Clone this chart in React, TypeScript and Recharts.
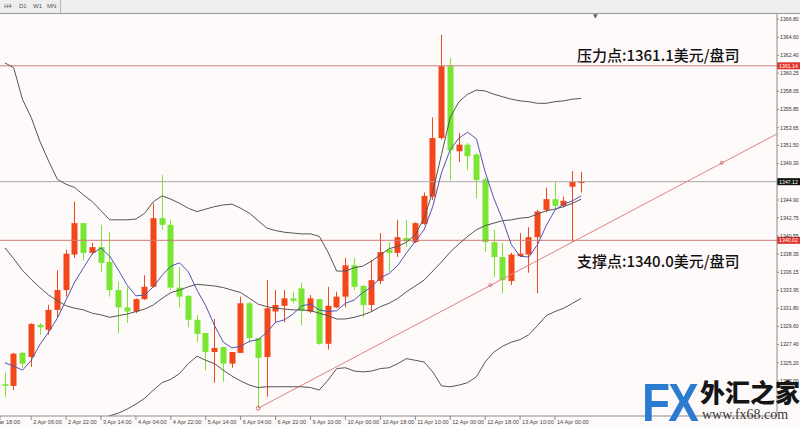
import React from 'react';
import {
  ComposedChart,
  Bar,
  Line,
  XAxis,
  YAxis,
  ReferenceLine,
  ReferenceDot,
} from 'recharts';

// H4 candles, gold (XAU/USD)
const openPrices = [
  1322.6, 1322.4, 1326.4, 1325.9, 1329.8, 1329.2, 1331.6, 1334.0, 1338.3, 1342.1,
  1338.5, 1339.2, 1337.4, 1334.0, 1331.9, 1331.4, 1332.9, 1334.4, 1342.7, 1341.9,
  1334.3, 1333.3, 1330.4, 1328.8, 1326.5, 1327.1, 1325.1, 1326.4, 1332.4, 1328.2,
  1325.9, 1331.4, 1332.1, 1333.0, 1334.2, 1331.4, 1332.9, 1327.5, 1331.9, 1333.2,
  1337.0, 1334.5, 1332.2, 1335.1, 1338.9, 1338.5, 1340.3, 1339.8, 1342.0, 1345.3,
  1352.4, 1361.1, 1350.8, 1351.6, 1350.4, 1347.4, 1339.8, 1338.0, 1335.1, 1338.1,
  1338.3, 1340.4, 1343.7, 1345.0, 1344.2, 1346.5, 1347.0,
];
const highPrices = [
  1324.0, 1326.4, 1326.5, 1330.0, 1330.0, 1332.2, 1336.4, 1338.9, 1344.7, 1342.1,
  1339.7, 1341.9, 1341.0, 1335.0, 1334.4, 1333.0, 1335.8, 1344.5, 1347.9, 1342.5,
  1336.8, 1333.4, 1331.0, 1328.8, 1330.5, 1327.1, 1326.5, 1333.2, 1332.6, 1328.2,
  1335.2, 1334.0, 1334.0, 1333.8, 1334.9, 1333.4, 1332.9, 1334.4, 1333.8, 1337.9,
  1337.9, 1334.6, 1337.6, 1340.9, 1339.8, 1342.5, 1342.5, 1342.2, 1345.8, 1354.9,
  1364.9, 1362.1, 1353.0, 1351.8, 1350.6, 1347.6, 1341.3, 1339.7, 1338.5, 1340.9,
  1341.6, 1343.7, 1346.4, 1347.1, 1345.3, 1348.4, 1348.3,
];
const lowPrices = [
  1321.1, 1321.9, 1324.6, 1324.7, 1328.6, 1328.6, 1330.7, 1333.2, 1337.9, 1337.6,
  1338.3, 1336.2, 1333.2, 1328.8, 1330.0, 1331.2, 1332.8, 1334.3, 1341.3, 1334.0,
  1331.9, 1329.5, 1327.7, 1324.3, 1322.8, 1322.9, 1324.6, 1326.4, 1327.6, 1319.7,
  1321.1, 1330.0, 1330.1, 1332.4, 1329.8, 1331.2, 1327.4, 1326.8, 1331.8, 1331.9,
  1334.0, 1330.7, 1331.4, 1334.7, 1336.2, 1338.0, 1339.2, 1339.7, 1341.9, 1344.9,
  1352.2, 1347.3, 1349.5, 1348.5, 1345.1, 1338.6, 1335.6, 1333.6, 1334.6, 1338.0,
  1336.1, 1333.6, 1343.4, 1343.8, 1344.0, 1339.8, 1345.8,
];
const closePrices = [
  1322.4, 1326.3, 1325.1, 1329.9, 1329.5, 1331.6, 1334.0, 1338.4, 1342.1, 1338.5,
  1339.2, 1337.3, 1334.0, 1331.9, 1331.4, 1332.9, 1334.4, 1342.7, 1341.9, 1334.3,
  1333.2, 1330.4, 1328.7, 1326.5, 1327.0, 1325.1, 1326.5, 1332.4, 1328.2, 1325.8,
  1331.8, 1332.2, 1333.0, 1332.7, 1331.5, 1333.0, 1327.5, 1332.1, 1333.2, 1337.0,
  1334.4, 1332.2, 1335.2, 1338.6, 1338.5, 1340.4, 1339.9, 1342.1, 1345.4, 1352.4,
  1361.1, 1350.9, 1351.6, 1350.2, 1347.3, 1339.8, 1338.0, 1335.2, 1338.3, 1338.4,
  1340.4, 1343.5, 1345.0, 1344.2, 1344.8, 1347.1, 1347.1,
];

// Bollinger bands and the short moving average
const bandUpper = [
  1361.5, 1360.9, 1357.1, 1354.9, 1352.0, 1349.6, 1347.4, 1346.8, 1346.4, 1345.5,
  1344.7, 1343.6, 1342.5, 1342.5, 1342.5, 1342.6, 1343.3, 1344.7, 1345.4, 1345.0,
  1344.5, 1343.9, 1343.5, 1343.8, 1344.1, 1344.3, 1344.4, 1343.9, 1343.3, 1342.4,
  1341.5, 1341.2, 1341.0, 1340.9, 1340.8, 1340.8, 1340.5, 1338.6, 1336.3, 1336.3,
  1336.7, 1336.9, 1337.5, 1338.3, 1339.0, 1339.3, 1339.8, 1340.7, 1342.7, 1345.9,
  1350.4, 1354.9, 1356.8, 1357.7, 1358.2, 1358.1, 1357.7, 1357.4, 1357.1, 1356.9,
  1356.8, 1356.6, 1356.6, 1356.8, 1356.9, 1357.1, 1357.2,
];
const bandMiddle = [
  1339.1, 1337.8, 1336.4, 1335.3, 1334.3, 1333.4, 1332.7, 1332.1, 1331.8, 1331.6,
  1331.2, 1331.0, 1330.7, 1330.9, 1331.1, 1331.4, 1331.7, 1332.2, 1333.0, 1333.7,
  1334.0, 1334.4, 1334.7, 1334.6, 1334.5, 1334.3, 1334.0, 1333.7, 1333.0, 1332.3,
  1332.0, 1331.8, 1331.7, 1331.6, 1331.6, 1331.5, 1331.2, 1330.9, 1330.5, 1330.5,
  1330.7, 1331.0, 1331.4, 1332.0, 1332.4, 1333.0, 1333.8, 1334.5, 1335.2, 1336.3,
  1337.4, 1338.6, 1339.6, 1340.5, 1341.3, 1341.8, 1342.1, 1342.4, 1342.5, 1342.7,
  1342.8, 1343.2, 1343.6, 1343.8, 1344.1, 1344.5, 1345.0,
];
const bandLower = [
  1316.7, 1315.9, 1315.7, 1315.7, 1316.2, 1316.8, 1317.6, 1317.6, 1317.3, 1317.6,
  1317.8, 1318.3, 1318.8, 1319.1, 1319.6, 1320.2, 1320.9, 1321.9, 1322.8, 1323.2,
  1323.9, 1325.1, 1326.0, 1325.5, 1325.1, 1324.3, 1323.6, 1323.0, 1322.5, 1322.2,
  1322.3, 1322.3, 1322.3, 1322.3, 1322.3, 1322.2, 1321.9, 1323.1, 1324.5, 1324.6,
  1324.2, 1324.1, 1324.2, 1324.5, 1324.6, 1325.1, 1325.7, 1325.5, 1325.3, 1324.1,
  1322.4, 1322.3, 1322.5, 1322.8, 1323.5, 1325.3, 1326.5, 1327.2, 1327.7, 1328.0,
  1328.6, 1329.7, 1330.9, 1331.4, 1331.8, 1332.4, 1333.0,
];
const movingAvg = [
  1325.2, 1324.8, 1324.3, 1325.5, 1327.4, 1328.9, 1330.6, 1332.8, 1335.0, 1336.7,
  1338.4, 1339.1, 1338.1, 1336.4, 1334.6, 1333.3, 1333.4, 1334.4, 1335.8, 1336.9,
  1337.3, 1336.2, 1334.0, 1332.1, 1329.7, 1327.7, 1327.0, 1327.2, 1327.8, 1328.0,
  1328.9, 1330.1, 1330.4, 1331.1, 1332.1, 1332.3, 1331.6, 1331.4, 1331.5, 1332.4,
  1332.8, 1333.7, 1334.4, 1335.5, 1336.0, 1337.0, 1338.5, 1339.9, 1341.3, 1344.1,
  1348.2, 1351.0, 1352.4, 1353.1, 1352.3, 1348.3, 1345.1, 1342.5, 1339.5, 1338.1,
  1338.0, 1339.5, 1341.8, 1343.7, 1344.4, 1344.8, 1345.4,
];

const xTickBars = [-0.57, 3, 7, 11, 15, 19, 23, 27, 31, 35, 39, 43, 47, 51, 55, 59, 63];
const xTickLabels = [
  '29 Mar 18:00', '2 Apr 06:00', '2 Apr 22:00', '3 Apr 14:00', '4 Apr 04:00',
  '4 Apr 22:00', '5 Apr 14:00', '6 Apr 04:00', '6 Apr 22:00', '9 Apr 10:00',
  '10 Apr 00:00', '10 Apr 18:00', '11 Apr 10:00', '12 Apr 00:00', '12 Apr 18:00',
  '13 Apr 10:00', '14 Apr 00:00',
];
const yTicks = [
  1323.0, 1325.2, 1327.4, 1329.6, 1331.8, 1333.95, 1336.15, 1338.35, 1340.55, 1342.75,
  1344.9, 1349.3, 1351.5, 1353.65, 1355.85, 1358.05, 1360.25, 1362.4, 1364.6, 1366.8,
];

const resistance = 1361.14;
const support = 1340.02;
const lastPrice = 1347.12;
const trendAnchors = [
  { i: 29, p: 1319.7 },
  { i: 55.6, p: 1334.6 },
  { i: 82.1, p: 1349.4 },
];
const trendEnd = { i: 88.43, p: 1352.9 };

const RED = '#f2471b';
const GREEN = '#78e632';
const LINE_RED = '#d27a7a';

const data = openPrices.map((o, i) => ({
  i,
  o,
  h: highPrices[i],
  l: lowPrices[i],
  c: closePrices[i],
  range: [lowPrices[i], highPrices[i]],
  upper: bandUpper[i],
  mid: bandMiddle[i],
  lower: bandLower[i],
  ma: movingAvg[i],
}));

const Candle = (props: any) => {
  const { x, y, width, height, payload } = props;
  if (!payload) return null;
  const { o, h, l, c } = payload;
  const top0 = Math.min(y, y + height);
  const hh = Math.abs(height);
  const k = hh / (h - l);
  const color = c >= o ? RED : GREEN;
  const bTop = top0 + (h - Math.max(o, c)) * k;
  const bBot = top0 + (h - Math.min(o, c)) * k;
  const cx = Math.round(x + width / 2) + 0.5;
  return (
    <g>
      <line x1={cx} x2={cx} y1={top0} y2={top0 + hh} stroke={color} strokeWidth={1} />
      <rect x={cx - 3} y={bTop} width={6} height={Math.max(1.2, bBot - bTop)} fill={color} />
    </g>
  );
};

const XTick = (props: any) => {
  const { x, y, payload, index } = props;
  const label = xTickLabels[xTickBars.indexOf(payload.value)] ?? '';
  if (index === 0) {
    return (
      <text x={x + 20} y={y} dy={3.5} fontSize={5.6} fill="#444" textAnchor="end" fontFamily="Liberation Sans, Arial">
        {label}
      </text>
    );
  }
  return (
    <text x={x + 2} y={y} dy={3.5} fontSize={5.6} fill="#444" textAnchor="start" fontFamily="Liberation Sans, Arial">
      {label}
    </text>
  );
};

const priceTag = (text: string, bg: string) => (p: any) => {
  const vb = p.viewBox || {};
  const right = (vb.x || 0) + (vb.width || 0);
  return (
    <g>
      <rect x={right} y={vb.y - 3.5} width={23} height={7} fill={bg} />
      <text x={right + 11.5} y={vb.y} dy={2} fontSize={5.2} fill="#fff" textAnchor="middle" fontFamily="Liberation Sans, Arial">
        {text}
      </text>
    </g>
  );
};

const noteLabel = (text: string, textTag: string, bg: string, dyText: number) => (p: any) => {
  const vb = p.viewBox || {};
  const right = (vb.x || 0) + (vb.width || 0);
  return (
    <g>
      <text x={(vb.x || 0) + 577} y={vb.y + dyText} fontSize={15} fill="#111" fontFamily="Noto Sans CJK SC" fontWeight={500}>
        {text}
      </text>
      <rect x={right} y={vb.y - 3.5} width={23} height={7} fill={bg} />
      <text x={right + 11.5} y={vb.y} dy={2} fontSize={5.2} fill="#fff" textAnchor="middle" fontFamily="Liberation Sans, Arial">
        {textTag}
      </text>
    </g>
  );
};

export default function App() {
  return (
    <div style={{ position: 'absolute', left: 0, top: 0, width: 800, height: 426, background: '#fffafa', overflow: 'hidden' }}>
      <ComposedChart
        width={800}
        height={426}
        data={data}
        margin={{ top: 14, right: 0, bottom: 0, left: 0 }}
      >
        <XAxis
          dataKey="i"
          type="number"
          domain={[-0.57, 88.43]}
          allowDataOverflow
          ticks={xTickBars}
          interval={0}
          tick={<XTick />}
          tickSize={4}
          tickMargin={0}
          height={10}
          stroke="#8a8a8a"
        />
        <YAxis
          orientation="right"
          type="number"
          domain={[1318.76, 1367.41]}
          allowDataOverflow
          ticks={yTicks}
          interval={0}
          width={23}
          tickSize={2}
          tickMargin={1}
          stroke="#8a8a8a"
          tick={{ fontSize: 5.2, fill: '#333', fontFamily: 'Liberation Sans, Arial' }}
          tickFormatter={(v: number) => v.toFixed(2)}
        />
        <ReferenceLine
          y={resistance}
          stroke={LINE_RED}
          strokeWidth={1}
          label={noteLabel('压力点:1361.1美元/盘司', '1361.14', '#e3332a', -5)}
        />
        <ReferenceLine
          y={support}
          stroke={LINE_RED}
          strokeWidth={1}
          label={noteLabel('支撑点:1340.0美元/盘司', '1340.02', '#e3332a', 27)}
        />
        <ReferenceLine
          y={lastPrice}
          stroke="#a8a8a8"
          strokeWidth={1}
          label={priceTag('1347.12', '#111')}
        />
        <ReferenceLine
          segment={[
            { x: trendAnchors[0].i, y: trendAnchors[0].p },
            { x: trendEnd.i, y: trendEnd.p },
          ]}
          stroke="#dc8484"
          strokeWidth={1}
          ifOverflow="hidden"
        />
        <Line type="linear" dataKey="upper" stroke="#555" strokeWidth={1} dot={false} isAnimationActive={false} />
        <Line type="linear" dataKey="mid" stroke="#555" strokeWidth={1} dot={false} isAnimationActive={false} />
        <Line type="linear" dataKey="lower" stroke="#555" strokeWidth={1} dot={false} isAnimationActive={false} />
        <Bar dataKey="range" barSize={6} shape={<Candle />} isAnimationActive={false} />
        <Line type="linear" dataKey="ma" stroke="#4d56b0" strokeWidth={1} dot={false} isAnimationActive={false} />
        {trendAnchors.map((a, k) => (
          <ReferenceDot
            key={k}
            x={a.i}
            y={a.p}
            r={k === 0 ? 2 : 1.5}
            fill="none"
            stroke="#d05a5a"
            strokeWidth={0.8}
          />
        ))}
      </ComposedChart>

      <div
        style={{
          position: 'absolute', left: 0, top: 0, width: 800, height: 13,
          background: '#eeeeee', borderBottom: '1px solid #9a9a9a',
          fontFamily: 'Liberation Sans, Arial', fontSize: 6, color: '#555',
        }}
      >
        <div style={{ position: 'absolute', left: 0, top: 0, width: 60, height: 13, borderRight: '1px solid #b8b8b8' }}>
          <span style={{ position: 'absolute', left: 4, top: 3 }}>H4</span>
          <span style={{ position: 'absolute', left: 19, top: 3 }}>D1</span>
          <span style={{ position: 'absolute', left: 33, top: 3 }}>W1</span>
          <span style={{ position: 'absolute', left: 47, top: 3 }}>MN</span>
        </div>
      </div>
      <div style={{ position: 'absolute', left: 593, top: 12, fontSize: 6, color: '#666', fontFamily: 'DejaVu Sans' }}>▼</div>

      <div
        style={{
          position: 'absolute', left: 642, top: 372, fontSize: 54, fontWeight: 900,
          color: '#2b7bd0', fontFamily: 'Liberation Sans, Arial', lineHeight: '60px',
          transform: 'scaleX(0.85)', transformOrigin: 'left top', letterSpacing: -2,
        }}
      >
        FX
      </div>
      <div
        style={{
          position: 'absolute', left: 700, top: 376, fontSize: 25, fontWeight: 900,
          color: '#151515', fontFamily: 'Noto Sans CJK SC', lineHeight: '30px',
        }}
      >
        外汇之家
      </div>
      <div
        style={{
          position: 'absolute', left: 702, top: 406, fontSize: 14,
          color: '#3a3a3a', fontFamily: 'Liberation Serif, serif', lineHeight: '18px',
        }}
      >
        www.fx68.com
      </div>
    </div>
  );
}
